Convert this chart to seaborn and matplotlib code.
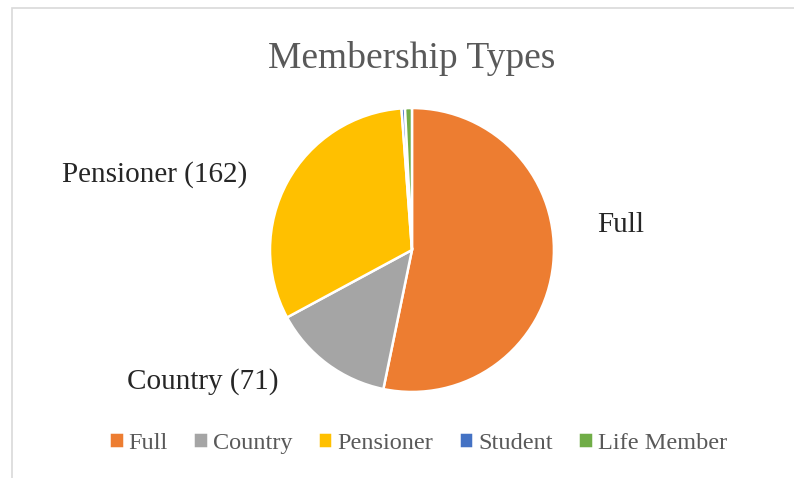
import matplotlib.pyplot as plt
import seaborn as sns
from matplotlib.patches import Rectangle

# membership counts (Student / Life Member read as slivers)
types = ['Full', 'Country', 'Pensioner', 'Student', 'Life Member']
counts = [272, 71, 162, 2, 4]
colors = ['#ED7D31', '#A5A5A5', '#FFC000', '#4472C4', '#70AD47']
shown_labels = ['Full', 'Country (71)', 'Pensioner (162)', '', '']

sns.set_theme(style='white')
plt.rcParams['font.family'] = ['Liberation Serif', 'DejaVu Serif']

fig = plt.figure(figsize=(7.94, 4.78), dpi=100)
# light chart frame
fig.patches.append(Rectangle((12 / 794, -0.1), 1.2, (478 - 8) / 478 + 0.1,
                             transform=fig.transFigure, fill=False,
                             edgecolor='#D9D9D9', linewidth=1.2))

ax = fig.add_axes([0.340, 0.180, 0.3577, 0.594])
wedges, _ = ax.pie(counts, colors=colors, startangle=90, counterclock=False,
                   wedgeprops=dict(edgecolor='white', linewidth=1.8))
ax.set_xlim(-1, 1)
ax.set_ylim(-1, 1)
ax.set_aspect('equal')

# data labels, placed like Excel's outside-end labels
fig.text(621 / 794, 1 - 225 / 478, shown_labels[0], fontsize=21, ha='center', va='center')
fig.text(203 / 794, 1 - 382 / 478, shown_labels[1], fontsize=21, ha='center', va='center')
fig.text(155 / 794, 1 - 175 / 478, shown_labels[2], fontsize=21, ha='center', va='center')

fig.text(412 / 794, 1 - 58 / 478, 'Membership Types', fontsize=27, color='#595959',
         ha='center', va='center')

fig.legend(wedges, types, loc='center', bbox_to_anchor=(418 / 794, 1 - 443 / 478),
           ncol=5, frameon=False, fontsize=17.5, handlelength=0.6, handleheight=0.6,
           handletextpad=0.2, columnspacing=1.05, labelcolor='#595959')

fig.savefig('out.png', dpi=100)
